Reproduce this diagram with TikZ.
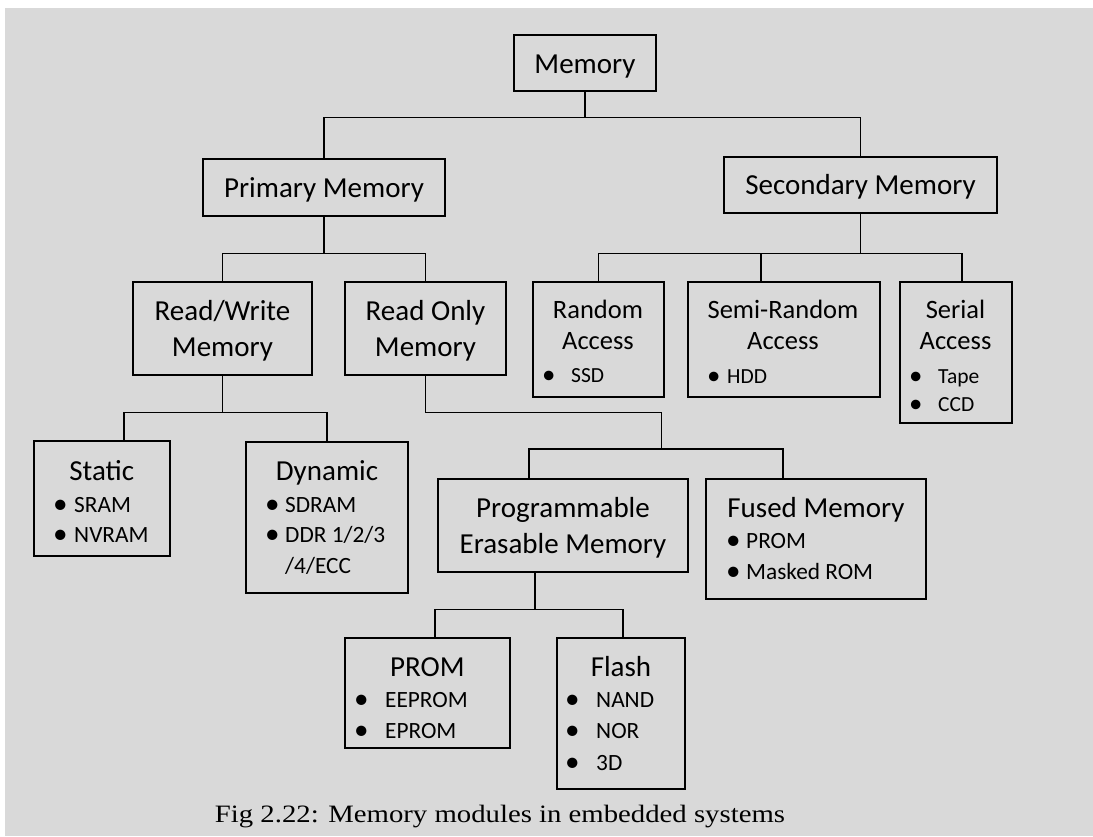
\documentclass[tikz,border=0pt]{standalone}
\usepackage{fontspec}
\setmainfont{Carlito}
\newfontfamily\capfont{Liberation Serif}[FakeStretch=1.15]
\usetikzlibrary{fit}
\definecolor{bggray}{RGB}{217,217,217}
\newcommand{\bul}[2]{\makebox[#1][l]{\smash{\raisebox{-1.2pt}{\scalebox{1.25}{\textbullet}}}}#2}

\begin{document}
\begin{tikzpicture}[x=1pt,y=-1pt,
  box/.style={draw,line width=1.2pt,inner sep=0pt},
  link/.style={line width=1.1pt},
  ttl/.style={anchor=base,inner sep=0pt,font=\fontsize{29}{35}\selectfont},
  sttl/.style={anchor=base,inner sep=0pt,font=\fontsize{26.5}{31}\selectfont},
  itm/.style={anchor=base west,inner sep=0pt,font=\fontsize{23.3}{30}\selectfont},
  sitm/.style={anchor=base west,inner sep=0pt,font=\fontsize{21.5}{28}\selectfont}]
\useasboundingbox (0,0) rectangle (1093,836);
\fill[white] (0,0) rectangle (1093,836);
\fill[bggray] (5,8) rectangle (1093,836);

% boxes
\node[box, fit={(514,35) (656,91)}] (memory) {};
\node[box, fit={(203,159) (445,216)}] (primary) {};
\node[box, fit={(724,157) (997,213)}] (secondary) {};
\node[box, fit={(133,282) (312,375)}] (rw) {};
\node[box, fit={(345,282) (506,375)}] (ro) {};
\node[box, fit={(533,282) (664,397)}] (random) {};
\node[box, fit={(688,282) (880,397)}] (semi) {};
\node[box, fit={(900,282) (1012,423)}] (serial) {};
\node[box, fit={(34,441) (170,556)}] (static) {};
\node[box, fit={(246,442) (408,593)}] (dynamic) {};
\node[box, fit={(438,479) (688,572)}] (pe) {};
\node[box, fit={(706,479) (926,599)}] (fused) {};
\node[box, fit={(345,638) (510,748)}] (prom) {};
\node[box, fit={(557,638) (685,789)}] (flash) {};

% titles
\node[ttl] (memory-t) at (585,73) {Memory};
\node[ttl] (primary-t) at (324,197) {Primary Memory};
\node[ttl] (secondary-t) at (860.5,194) {Secondary Memory};
\node[ttl] (rw-t1) at (222.5,320) {Read/Write};
\node[ttl] (rw-t2) at (222.5,356) {Memory};
\node[ttl] (ro-t1) at (425.5,320) {Read Only};
\node[ttl] (ro-t2) at (425.5,356) {Memory};
\node[sttl] (random-t1) at (598,318) {Random};
\node[sttl] (random-t2) at (598,349) {Access};
\node[sttl] (semi-t1) at (783,318) {Semi-Random};
\node[sttl] (semi-t2) at (783,349) {Access};
\node[sttl] (serial-t1) at (955.5,318) {Serial};
\node[sttl] (serial-t2) at (955.5,349) {Access};
\node[ttl] (static-t) at (101.7,480) {Static};
\node[ttl] (dynamic-t) at (327,480) {Dynamic};
\node[ttl] (pe-t1) at (563,517) {Programmable};
\node[ttl] (pe-t2) at (563,553) {Erasable Memory};
\node[ttl] (fused-t) at (816,517) {Fused Memory};
\node[ttl] (prom-t) at (427.3,676) {PROM};
\node[ttl] (flash-t) at (621,676) {Flash};

% bullet lists
\node[sitm] (random-1) at (542,382) {\bul{29pt}{SSD}};
\node[sitm] (semi-1) at (707,383) {\bul{20pt}{HDD}};
\foreach \t [count=\i] in {Tape,CCD}
  \node[sitm] (serial-\i) at (909,355+28*\i) {\bul{29pt}{\t}};
\foreach \t [count=\i] in {SRAM,NVRAM}
  \node[itm] (static-\i) at (53,482+30*\i) {\bul{21pt}{\t}};
\foreach \t [count=\i] in {SDRAM,DDR 1/2/3}
  \node[itm] (dynamic-\i) at (265,482+30*\i) {\bul{20pt}{\t}};
\node[itm] (dynamic-3) at (285,573) {/4/ECC};
\foreach \t [count=\i] in {PROM,Masked ROM}
  \node[itm] (fused-\i) at (726,517+31*\i) {\bul{20pt}{\t}};
\foreach \t [count=\i] in {EEPROM,EPROM}
  \node[itm] (prom-\i) at (354,676+31*\i) {\bul{31pt}{\t}};
\foreach \t [count=\i] in {NAND,NOR,3D}
  \node[itm] (flash-\i) at (565,675.5+31.5*\i) {\bul{31pt}{\t}};

% connectors
\coordinate (j4) at (661.5,449);
\draw[link] (memory.south) -- ++(0,26) coordinate (j0) -| (primary.north);
\draw[link] (j0) -| (secondary.north);
\draw[link] (primary.south) -- ++(0,37) coordinate (j1) -| (rw.north);
\draw[link] (j1) -| (ro.north);
\draw[link] (secondary.south) -- ++(0,40) coordinate (j2) -| (random.north);
\draw[link] (j2) -| ([xshift=-23pt]semi.north);
\draw[link] (j2) -| ([xshift=6pt]serial.north);
\draw[link] (rw.south) -- ++(0,37) coordinate (j3) -| ([xshift=22pt]static.north);
\draw[link] (j3) -| (dynamic.north);
\draw[link] (ro.south) -- ++(0,37) -| (j4);
\draw[link] (j4) -| ([xshift=-34pt]pe.north);
\draw[link] (j4) -| ([xshift=-33pt]fused.north);
\draw[link] ([xshift=-28pt]pe.south) -- ++(0,37) coordinate (j5) -| ([xshift=7.5pt]prom.north);
\draw[link] (j5) -| ([xshift=2pt]flash.north);

\node[anchor=base,inner sep=0pt,font=\capfont\fontsize{25}{30}\selectfont] (caption) at (500,822)
  {Fig 2.22: Memory modules in embedded systems};
\end{tikzpicture}
\end{document}
